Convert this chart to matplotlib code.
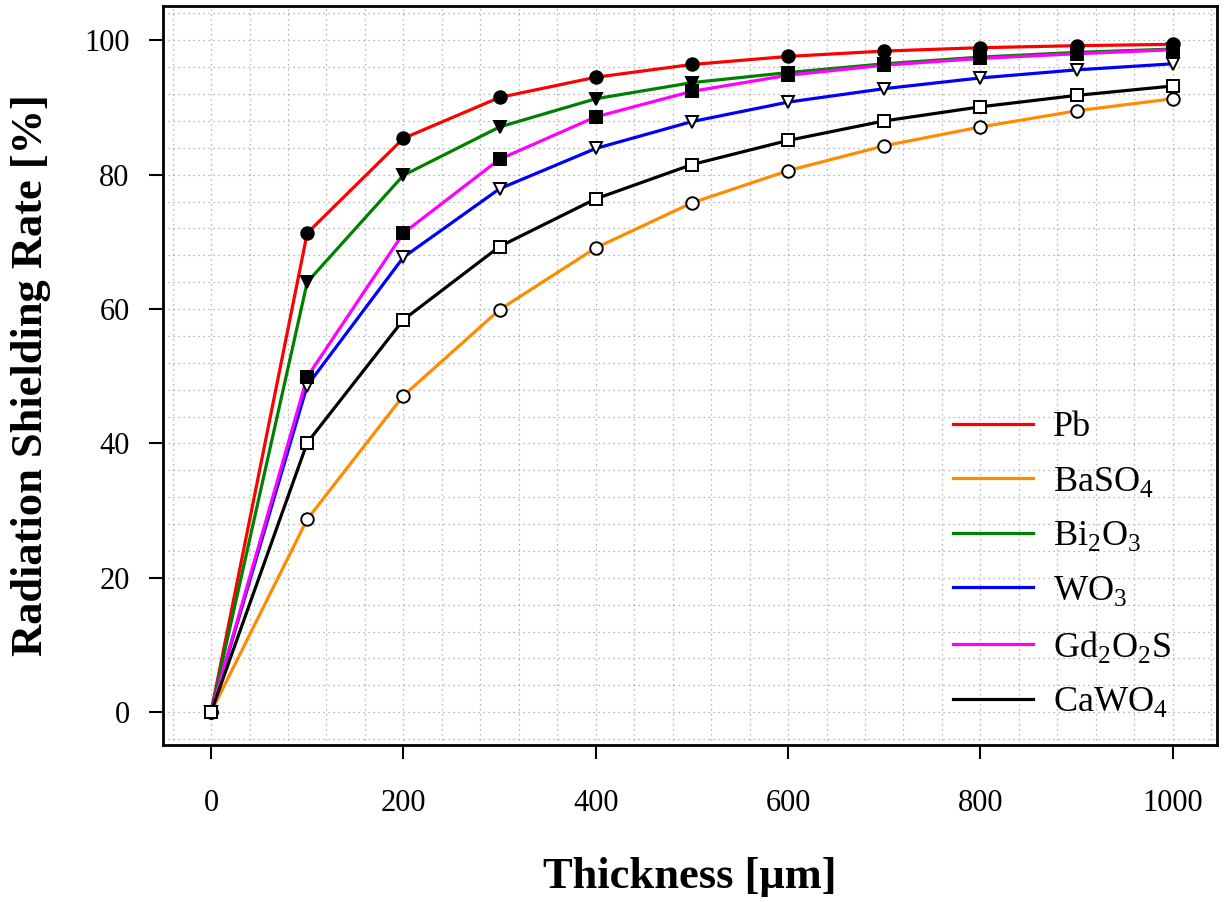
import matplotlib.pyplot as plt
from matplotlib.ticker import MultipleLocator

plt.rcParams['font.family'] = ['Liberation Serif', 'DejaVu Serif']
plt.rcParams['mathtext.fontset'] = 'custom'
plt.rcParams['mathtext.rm'] = 'Liberation Serif'

thickness = [0, 100, 200, 300, 400, 500, 600, 700, 800, 900, 1000]

pb      = [0, 71.3, 85.4, 91.5, 94.5, 96.4, 97.6, 98.4, 98.9, 99.2, 99.4]
baso4   = [0, 28.7, 47.1, 59.9, 69.1, 75.8, 80.6, 84.3, 87.1, 89.5, 91.3]
bi2o3   = [0, 64.0, 79.9, 87.1, 91.3, 93.7, 95.2, 96.5, 97.5, 98.2, 98.7]
wo3     = [0, 48.6, 67.7, 77.9, 83.9, 87.9, 90.8, 92.8, 94.4, 95.6, 96.5]
gd2o2s  = [0, 49.9, 71.3, 82.3, 88.6, 92.4, 94.8, 96.3, 97.3, 98.0, 98.6]
cawo4   = [0, 40.1, 58.4, 69.3, 76.4, 81.5, 85.1, 88.0, 90.1, 91.8, 93.2]

series = [
    ('Pb', pb, 'red', 'o', 'black'),
    (r'BaSO$_4$', baso4, 'darkorange', 'o', 'white'),
    (r'Bi$_2$O$_3$', bi2o3, 'green', 'v', 'black'),
    (r'WO$_3$', wo3, 'blue', 'v', 'white'),
    (r'Gd$_2$O$_2$S', gd2o2s, 'magenta', 's', 'black'),
    (r'CaWO$_4$', cawo4, 'black', 's', 'white'),
]

fig = plt.figure(figsize=(12.28, 9.02), dpi=100)
ax = fig.add_axes([0.1327, 0.174, 0.8583, 0.8193])

for label, vals, col, mk, face in series:
    ax.plot(thickness, vals, color=col, lw=2.3, label=label, zorder=3)
for label, vals, col, mk, face in series:
    ax.plot(thickness, vals, ls='none', marker=mk, ms=9, mfc=face,
            mec='black', mew=1.4, zorder=4)

ax.set_xlim(-50, 1046)
ax.set_ylim(-4.9, 105.1)
ax.set_xticks(range(0, 1001, 200))
ax.set_yticks(range(0, 101, 20))
ax.xaxis.set_minor_locator(MultipleLocator(40))
ax.yaxis.set_minor_locator(MultipleLocator(4))
ax.grid(which='both', color='#a0a0a0', ls=(0, (1, 3)), lw=0.9, zorder=0)
ax.tick_params(which='minor', length=0)
ax.tick_params(which='major', direction='out', length=10, width=1.5,
               labelsize=22, top=False, right=False)
ax.tick_params(axis='x', pad=22)
ax.tick_params(axis='y', pad=14)
for s in ax.spines.values():
    s.set_linewidth(2)

ax.set_xlabel('Thickness [μm]', fontsize=32, fontweight='bold', labelpad=28)
ax.set_ylabel('Radiation Shielding Rate [%]', fontsize=32, fontweight='bold',
              labelpad=24)

ax.legend(loc='upper left', bbox_to_anchor=(0.75, 0.452), frameon=False,
          fontsize=26, handlelength=2.2, handletextpad=0.55,
          labelspacing=0.57, borderaxespad=0, borderpad=0)

fig.savefig('out.png', dpi=100)
